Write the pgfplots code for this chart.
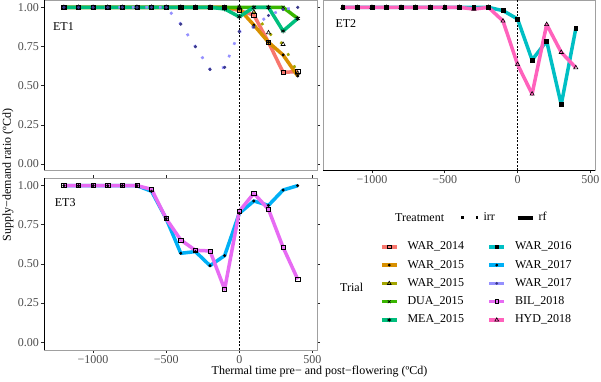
\documentclass[border=0pt]{standalone}
\usepackage{fontspec}
\setmainfont{Liberation Serif}
\usepackage{pgfplots}
\usepackage{pgfplotstable}
\pgfplotsset{compat=1.18}

\definecolor{c1}{HTML}{F8766D}
\definecolor{c2}{HTML}{D89000}
\definecolor{c3}{HTML}{A3A500}
\definecolor{c4}{HTML}{39B600}
\definecolor{c5}{HTML}{00BF7D}
\definecolor{c6}{HTML}{00BFC4}
\definecolor{c7}{HTML}{00B0F6}
\definecolor{c8}{HTML}{9590FF}
\definecolor{c9}{HTML}{E76BF3}
\definecolor{c10}{HTML}{FF62BC}
\definecolor{navy}{HTML}{3A3A8C}
\definecolor{tickgray}{HTML}{4D4D4D}
\definecolor{framegray}{HTML}{A0A0A0}

\pgfplotstableread{
x     w14   w15o  w15y  dua   mea   w17p
-1200 1     1     1     1     1     1
-1100 1     1     1     1     1     1
-1000 1     1     1     1     1     1
-900  1     1     1     1     1     1
-800  1     1     1     1     1     1
-700  1     1     1     1     1     1
-600  1     1     1     1     1     1
-500  1     1     1     1     1     1
-400  1     1     1     1     1     0.893
-300  1     1     1     1     1     0.749
-200  1     1     1     1     1     0.604
-100  1     1     1     1     0.99  0.617
0     0.98  0.99  1     1     0.94  0.845
100   0.951 0.887 0.97  1     1     0.875
200   0.777 0.777 0.838 1     1     0.948
300   0.585 0.696 0.764 1     0.849 0.987
400   0.59  0.562 0.58  0.929 0.929 1
}\etone

\pgfplotstableread{
x     w16   hyd
-1200 1     1
-1100 1     1
-1000 1     1
-900  1     1
-800  1     1
-700  1     1
-600  1     1
-500  1     1
-400  1     1
-300  1     0.989
-200  1     1
-100  0.979 0.913
0     0.926 0.636
100   0.664 0.447
200   0.785 0.891
300   0.379 0.713
400   0.864 0.615
}\ettwo

\pgfplotstableread{
x     w17b  bil
-1200 1     1
-1100 1     1
-1000 1     1
-900  1     1
-800  1     1
-700  1     1
-600  0.964 0.977
-500  0.789 0.789
-400  0.568 0.653
-300  0.579 0.587
-200  0.489 0.583
-100  0.553 0.338
0     0.823 0.836
100   0.902 0.951
200   0.874 0.849
300   0.972 0.606
400   1     0.402
}\etthree

\pgfplotsset{
  panel/.style={
    scale only axis, anchor=south west,
    xmin=-1336, xmax=532,
    axis line style={framegray, line width=0.6bp},
    tick align=outside, major tick length=3bp,
    tick style={black!85, line width=0.6bp},
    ticklabel style={text=tickgray, font=\fontsize{12bp}{14bp}\selectfont},
    xtick={-1000,-500,0,500}, xticklabels={−1000,−500,0,500},
    ytick={0,0.25,0.5,0.75,1}, yticklabels={0.00,0.25,0.50,0.75,1.00},
    xticklabel style={inner sep=1bp, yshift=-1bp},
    yticklabel style={inner sep=1bp, xshift=-1bp},
  },
  rf/.style={line width=3.5bp, mark=none, line join=round},
  irr/.style={line width=2.6bp, mark=none, dash pattern=on 2.6bp off 11bp},
  zero/.style={black, line width=0.7bp, dash pattern=on 2.2bp off 1.3bp, mark=none},
  mk/.style={black, only marks, line width=0.6bp},
}

\begin{document}
\fontsize{12bp}{14bp}\selectfont
\begin{tikzpicture}
\useasboundingbox (0,0) rectangle (601bp,382bp);

% ---------------- ET1 ----------------
\begin{axis}[panel, at={(44bp,211.6bp)}, width=273bp, height=170.4bp,
  ymin=-0.041, ymax=1.047, xtick=\empty]
\addplot[zero] coordinates {(0,-0.041) (0,1.047)};
\addplot[c1, rf] table[x=x,y=w14]{\etone};
\addplot[c2, rf] table[x=x,y=w15o]{\etone};
\addplot[c3, irr] table[x=x,y=w15y]{\etone};
\addplot[c4, rf] table[x=x,y=dua]{\etone};
\addplot[c5, rf] table[x=x,y=mea]{\etone};
\addplot[c8, irr] table[x=x,y=w17p]{\etone};
\addplot[mk, mark=square, mark size=2.1bp] table[x=x,y=w14]{\etone};
\addplot[mk, mark=*, mark size=1.2bp] table[x=x,y=w15o]{\etone};
\addplot[mk, mark=triangle, mark size=2.4bp] table[x=x,y=w15y]{\etone};
\addplot[mk, mark=x, mark size=2.2bp] table[x=x,y=dua]{\etone};
\addplot[mk, mark=asterisk, mark size=2.5bp] table[x=x,y=mea]{\etone};
\addplot[mk, navy, mark=*, mark size=1.3bp, mark options={navy}] table[x=x,y=w17p]{\etone};
\node[anchor=west, inner sep=0pt] at (axis cs:-1275,0.88) {ET1};
\draw[black, line width=0.8bp] (rel axis cs:0,0) -- (rel axis cs:0,1);
\end{axis}

% ---------------- ET2 ----------------
\begin{axis}[panel, at={(323bp,211.6bp)}, width=272bp, height=170.4bp,
  ymin=-0.041, ymax=1.047, ytick=\empty]
\addplot[zero] coordinates {(0,-0.041) (0,1.047)};
\addplot[c6, rf] table[x=x,y=w16]{\ettwo};
\addplot[c10, rf] table[x=x,y=hyd]{\ettwo};
\addplot[mk, mark=square*, mark size=1.9bp] table[x=x,y=w16]{\ettwo};
\addplot[mk, mark=triangle, mark size=2.4bp] table[x=x,y=hyd]{\ettwo};
\node[anchor=west, inner sep=0pt] at (axis cs:-1251,0.897) {ET2};
\draw[black, line width=0.8bp] (rel axis cs:0,0) -- (rel axis cs:1,0);
\end{axis}

% ---------------- ET3 ----------------
\begin{axis}[panel, at={(44bp,32.1bp)}, width=273bp, height=171.6bp,
  ymin=-0.049, ymax=1.047]
\addplot[zero] coordinates {(0,-0.049) (0,1.047)};
\addplot[c7, rf] table[x=x,y=w17b]{\etthree};
\addplot[c9, rf] table[x=x,y=bil]{\etthree};
\addplot[mk, mark=*, mark size=1.2bp] table[x=x,y=w17b]{\etthree};
\addplot[mk, mark=square, mark size=2.1bp] table[x=x,y=bil]{\etthree};
\node[anchor=west, inner sep=0pt] at (axis cs:-1263,0.893) {ET3};
\draw[black, line width=0.8bp] (rel axis cs:0,0) -- (rel axis cs:0,1);
\draw[black, line width=0.8bp] (rel axis cs:0,0) -- (rel axis cs:1,0);
\end{axis}

% ---------------- axis titles ----------------
\node[rotate=90] at (8bp,207bp) {Supply−demand ratio (ºCd)};
\node at (319.5bp,10bp) {Thermal time pre− and post−flowering (ºCd)};

% ---------------- Treatment legend ----------------
\node[anchor=west, inner sep=0pt] at (395bp,164bp) {Treatment};
\begin{axis}[at={(0bp,0bp)}, anchor=south west, scale only axis,
  width=601bp, height=382bp, xmin=0, xmax=601, ymin=0, ymax=382, hide axis,
  legend columns=2, legend cell align=left,
  legend image code/.code={\draw plot coordinates {(0bp,0bp) (17bp,0bp)};},
  legend style={draw=none, fill=none, inner sep=0pt, outer sep=0pt,
    at={(459.5/601,170/382)}, anchor=north west,
    nodes={inner sep=0pt, text height=9bp, text depth=3bp},
    column sep=0pt,
    /tikz/every odd column/.style={column sep=4bp}}]
\addlegendimage{black, line width=3bp, dash pattern=on 3bp off 12bp}
\addlegendentry{\makebox[32bp][l]{irr}}
\addlegendimage{black, line width=4bp, legend image code/.code={\draw (0bp,0bp) -- (15bp,0bp);}}
\addlegendentry{rf}
\end{axis}

% ---------------- Trial legend ----------------
\node[anchor=west, inner sep=0pt] at (340bp,95bp) {Trial};
\begin{axis}[at={(0bp,0bp)}, anchor=south west, scale only axis,
  width=601bp, height=382bp, xmin=0, xmax=601, ymin=0, ymax=382, hide axis,
  legend columns=2, legend cell align=left,
  legend image code/.code={\draw[mark repeat=2,mark phase=2] plot coordinates {(0bp,0bp) (7.5bp,0bp) (15bp,0bp)};},
  legend style={draw=none, fill=none, inner sep=0pt, outer sep=0pt,
    at={(380/601,141.2/382)}, anchor=north west,
    nodes={inner sep=0pt, text height=9bp, text depth=3bp},
    row sep=6.3bp, column sep=0pt,
    /tikz/every odd column/.style={column sep=9bp}}]
\addlegendimage{c1, line width=3.5bp, mark=square, mark size=1.9bp, mark options={black, line width=0.6bp}}
\addlegendentry{\makebox[80bp][l]{WAR\_2014}}
\addlegendimage{c6, line width=3.5bp, mark=square*, mark size=1.8bp, mark options={black, line width=0.6bp}}
\addlegendentry{WAR\_2016}
\addlegendimage{c2, line width=3.5bp, mark=*, mark size=1.1bp, mark options={black, line width=0.6bp}}
\addlegendentry{\makebox[80bp][l]{WAR\_2015}}
\addlegendimage{c7, line width=3.5bp, mark=*, mark size=1.1bp, mark options={black, line width=0.6bp}}
\addlegendentry{WAR\_2017}
\addlegendimage{c3, line width=3.5bp, mark=triangle, mark size=2.2bp, mark options={black, line width=0.6bp}}
\addlegendentry{\makebox[80bp][l]{WAR\_2015}}
\addlegendimage{c8, line width=3.5bp, mark=*, mark size=1.1bp, mark options={navy, line width=0.6bp}}
\addlegendentry{WAR\_2017}
\addlegendimage{c4, line width=3.5bp, mark=x, mark size=2bp, mark options={black, line width=0.6bp}}
\addlegendentry{\makebox[80bp][l]{DUA\_2015}}
\addlegendimage{c9, line width=3.5bp, mark=square, mark size=1.9bp, mark options={black, line width=0.6bp}}
\addlegendentry{BIL\_2018}
\addlegendimage{c5, line width=3.5bp, mark=asterisk, mark size=2.2bp, mark options={black, line width=0.6bp}}
\addlegendentry{\makebox[80bp][l]{MEA\_2015}}
\addlegendimage{c10, line width=3.5bp, mark=triangle, mark size=2.2bp, mark options={black, line width=0.6bp}}
\addlegendentry{HYD\_2018}
\end{axis}
\end{tikzpicture}
\end{document}
